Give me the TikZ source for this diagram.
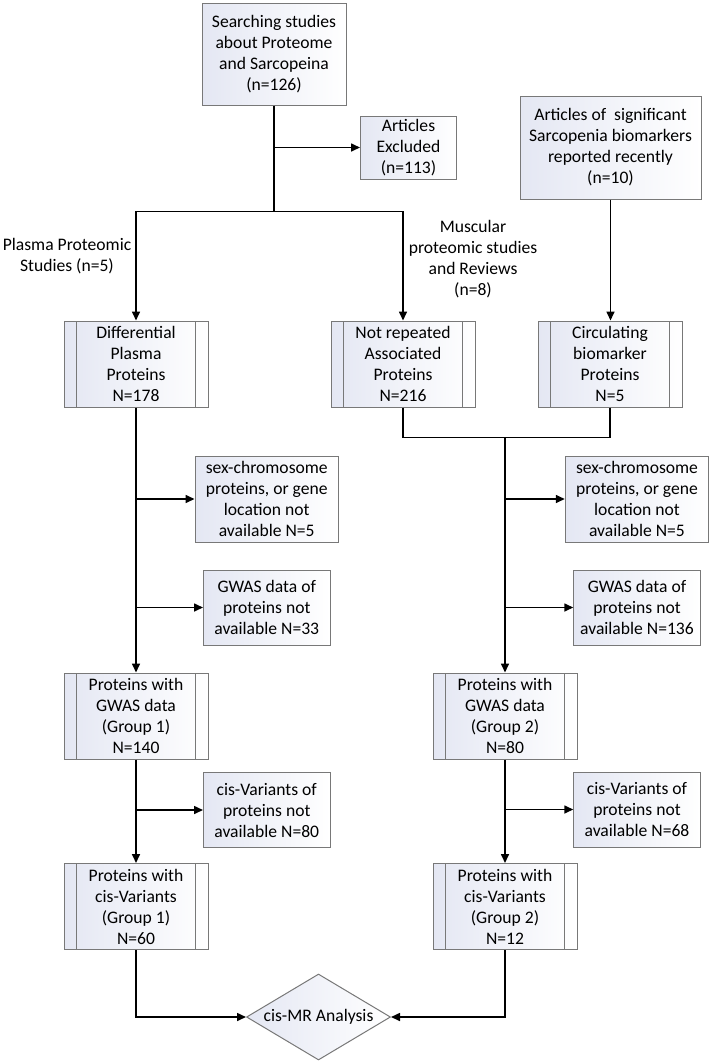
\documentclass[tikz,border=0pt]{standalone}
\usepackage{fontspec}
\setmainfont{Carlito}
\usetikzlibrary{shapes.geometric,arrows.meta}
\definecolor{bordergray}{RGB}{120,120,120}
\definecolor{gradc}{RGB}{228,231,243}
\begin{document}
\begin{tikzpicture}[x=1pt,y=-1pt,
  every node/.style={font=\fontsize{17.6}{21}\selectfont, align=center, inner sep=0pt},
  box/.style={draw=bordergray, line width=1pt, left color=gradc, right color=white},
  procbox/.style={box, minimum width=144pt, minimum height=86pt,
    path picture={\draw[bordergray,line width=1pt]
      ([xshift=12.5pt]path picture bounding box.north west) -- ([xshift=12.5pt]path picture bounding box.south west)
      ([xshift=-12.5pt]path picture bounding box.north east) -- ([xshift=-12.5pt]path picture bounding box.south east);}},
  exbox/.style={box, minimum width=126.5pt, minimum height=75pt},
  sexbox/.style={box, minimum width=143.5pt, minimum height=86pt},
  arr/.style={draw=black, line width=1.6pt, -{Triangle[length=9pt,width=8pt]}},
  ln/.style={draw=black, line width=1.6pt}]
\fill[white] (0,0) rectangle (711,1063);
\useasboundingbox (0,0) rectangle (711,1063);

\node[box, minimum width=144pt, minimum height=102pt] (search) at (274,54) {Searching studies\\about Proteome\\and Sarcopeina\\(n=126)};
\node[box, minimum width=96pt, minimum height=63pt] (excl) at (408.5,147.5) {Articles\\Excluded\\(n=113)};
\node[box, minimum width=181pt, minimum height=103pt] (artsig) at (610.5,147.5) {Articles of\ \ significant\\Sarcopenia biomarkers\\reported recently\\(n=10)};
\node (plasma) at (67,256) {Plasma Proteomic\\Studies (n=5)};
\node (musc) at (473,259) {Muscular\\proteomic studies\\and Reviews\\(n=8)};

\node[procbox] (diff) at (136,364) {Differential\\Plasma\\Proteins\\N=178};
\node[procbox] (notrep) at (403,364) {Not repeated\\Associated\\Proteins\\N=216};
\node[procbox] (circ) at (610,364) {Circulating\\biomarker\\Proteins\\N=5};

\node[sexbox] (sexL) at (266.75,499) {sex-chromosome\\proteins, or gene\\location not\\available N=5};
\node[exbox] (gwasL) at (266.75,607.5) {GWAS data of\\proteins not\\available N=33};
\node[procbox] (g1gwas) at (136,716) {Proteins with\\GWAS data\\(Group 1)\\N=140};
\node[exbox] (cisL) at (266.75,810) {cis-Variants of\\proteins not\\available N=80};
\node[procbox] (g1cis) at (136,906.5) {Proteins with\\cis-Variants\\(Group 1)\\N=60};

\node[sexbox] (sexR) at (637,499) {sex-chromosome\\proteins, or gene\\location not\\available N=5};
\node[exbox] (gwasR) at (637,607.5) {GWAS data of\\proteins not\\available N=136};
\node[procbox] (g2gwas) at (505,716) {Proteins with\\GWAS data\\(Group 2)\\N=80};
\node[exbox] (cisR) at (637,809.5) {cis-Variants of\\proteins not\\available N=68};
\node[procbox] (g2cis) at (505,906.5) {Proteins with\\cis-Variants\\(Group 2)\\N=12};

\node[box, shape=diamond, aspect=1.67, minimum width=144pt, minimum height=86pt] (mr) at (318.5,1017) {cis-MR Analysis};

\coordinate (sp) at (274,211.5);
\coordinate (mg) at (505,437.5);

\draw[ln] (search.south) -- (sp);
\draw[arr] (search.south |- excl.west) -- (excl.west);
\draw[arr] (sp) -| (diff.north);
\draw[arr] (sp) -| (notrep.north);
\draw[arr] (artsig.south) -- (artsig.south |- circ.north);
\draw[ln] (notrep.south) |- (mg);
\draw[ln] (circ.south) |- (mg);
\draw[arr] (mg) -- (g2gwas.north);

\draw[arr] (diff.south) -- (g1gwas.north);
\draw[arr] (diff.south |- sexL.west) -- (sexL.west);
\draw[arr] (diff.south |- gwasL.west) -- (gwasL.west);
\draw[arr] (g1gwas.south) -- (g1cis.north);
\draw[arr] (g1gwas.south |- cisL.west) -- (cisL.west);
\draw[arr] (g1cis.south) |- (mr.west);

\draw[arr] (mg |- sexR.west) -- (sexR.west);
\draw[arr] (mg |- gwasR.west) -- (gwasR.west);
\draw[arr] (g2gwas.south) -- (g2cis.north);
\draw[arr] (g2gwas.south |- cisR.west) -- (cisR.west);
\draw[arr] (g2cis.south) |- (mr.east);
\end{tikzpicture}
\end{document}
